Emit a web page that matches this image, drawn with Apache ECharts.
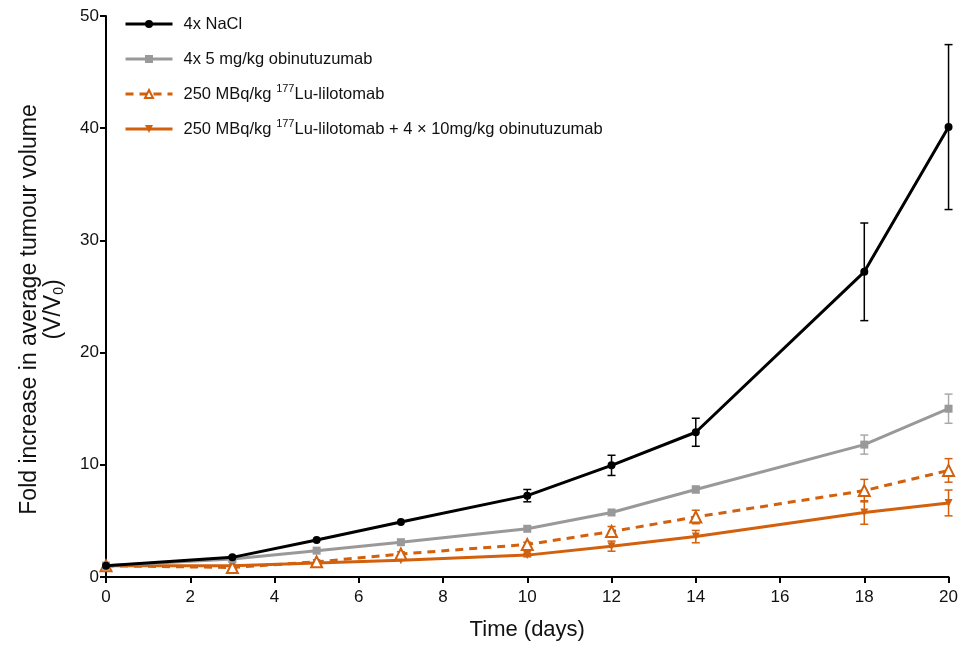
<!DOCTYPE html>
<html>
<head>
    <meta charset="utf-8"/>
    <title>Tumour volume</title>
    <script src="https://cdn.jsdelivr.net/npm/echarts@6/dist/echarts.min.js"></script>
    <style>
        html, body { margin: 0; padding: 0; background: #fff; }
        #main { width: 961px; height: 646px; }
    </style>
</head>
<body>
<div id="main"></div>
<script>
    // 数据
    var days = [0, 3, 5, 7, 10, 12, 14, 18, 20];
    var xTicks = [0, 2, 4, 6, 8, 10, 12, 14, 16, 18, 20];
    var yTicks = [0, 10, 20, 30, 40, 50];
    var seriesNames = ['4x NaCl', '4x 5 mg/kg obinutuzumab', '250 MBq/kg 177Lu-lilotomab',
        '250 MBq/kg 177Lu-lilotomab + 4 × 10mg/kg obinutuzumab'];
    var nacl = [1.0, 1.75, 3.3, 4.9, 7.25, 9.95, 12.9, 27.2, 40.1];
    var naclErr = [0, 0, 0, 0, 0.55, 0.9, 1.25, 4.35, 7.35];
    var obin = [1.0, 1.6, 2.35, 3.1, 4.3, 5.75, 7.8, 11.8, 15.0];
    var obinErr = [0, 0, 0, 0, 0, 0, 0.3, 0.85, 1.3];
    var lu = [1.0, 0.85, 1.35, 2.05, 2.9, 4.05, 5.35, 7.7, 9.5];
    var luErr = [0, 0.2, 0, 0.2, 0.2, 0.45, 0.6, 1.0, 1.05];
    var combo = [1.0, 1.0, 1.25, 1.5, 1.95, 2.75, 3.6, 5.75, 6.6];
    var comboErr = [0, 0, 0, 0, 0.15, 0.45, 0.55, 1.05, 1.15];
    var starPoint = [9, 3.8];

    var colors = ['#000000', '#999999', '#d2600d', '#d2600d'];
    var font = "'Liberation Sans', Arial, sans-serif";

    function pairs(ys) {
        return days.map(function (d, i) { return [d, ys[i]]; });
    }
    function errData(ys, es) {
        var out = [];
        days.forEach(function (d, i) {
            if (es[i] > 0) out.push([d, ys[i] - es[i], ys[i] + es[i]]);
        });
        return out;
    }
    // 误差棒
    function errSeries(ys, es, color) {
        return {
            type: 'custom',
            silent: true,
            z: 1,
            data: errData(ys, es),
            encode: {x: 0, y: [1, 2]},
            renderItem: function (params, api) {
                var x = api.value(0);
                var lo = api.coord([x, api.value(1)]);
                var hi = api.coord([x, api.value(2)]);
                var w = 4;
                var st = {stroke: color, lineWidth: 1.5};
                return {
                    type: 'group',
                    children: [
                        {type: 'line', shape: {x1: lo[0], y1: lo[1], x2: hi[0], y2: hi[1]}, style: st},
                        {type: 'line', shape: {x1: hi[0] - w, y1: hi[1], x2: hi[0] + w, y2: hi[1]}, style: st},
                        {type: 'line', shape: {x1: lo[0] - w, y1: lo[1], x2: lo[0] + w, y2: lo[1]}, style: st}
                    ]
                };
            }
        };
    }

    var chart = echarts.init(document.getElementById('main'));
    var option = {
        animation: false,
        textStyle: {fontFamily: font},
        grid: {left: 106, right: 11, top: 16, bottom: 68},
        legend: {
            orient: 'vertical',
            left: 119,
            top: 8,
            itemWidth: 47,
            itemHeight: 10,
            itemGap: 13,
            data: seriesNames,
            lineStyle: {width: 3},
            textStyle: {
                fontFamily: font, fontSize: 16.5, color: '#111', lineHeight: 22,
                padding: [0, 0, 0, 6],
                rich: {
                    sup: {fontSize: 11, verticalAlign: 'top', lineHeight: 12, fontFamily: font, color: '#111'}
                }
            },
            formatter: function (name) {
                return name.replace('177Lu', '{sup|177}Lu');
            }
        },
        xAxis: {
            type: 'value',
            min: 0, max: 20, interval: 2,
            name: 'Time (days)',
            nameLocation: 'middle',
            nameGap: 42,
            nameTextStyle: {fontSize: 22, color: '#111', fontFamily: font},
            axisLine: {lineStyle: {color: '#000', width: 2}},
            axisTick: {length: 6, lineStyle: {width: 2, color: '#000'}},
            axisLabel: {fontSize: 17, color: '#111', margin: 12,
                customValues: xTicks},
            splitLine: {show: false}
        },
        yAxis: {
            type: 'value',
            min: 0, max: 50, interval: 10,
            name: 'Fold increase in average tumour volume\n(V/V{sub|0})',
            nameLocation: 'middle',
            nameGap: 40,
            nameTextStyle: {
                fontSize: 23, color: '#111', fontFamily: font, lineHeight: 24,
                padding: [0, 26, 0, 0],
                rich: {sub: {fontSize: 14, verticalAlign: 'bottom', lineHeight: 14, fontFamily: font, color: '#111'}}
            },
            axisLine: {lineStyle: {color: '#000', width: 2}},
            axisTick: {length: 6, lineStyle: {width: 2, color: '#000'}},
            axisLabel: {fontSize: 17, color: '#111', margin: 7, customValues: yTicks},
            splitLine: {show: false}
        },
        series: [
            errSeries(nacl, naclErr, '#000'),
            errSeries(obin, obinErr, '#aaaaaa'),
            errSeries(lu, luErr, colors[2]),
            errSeries(combo, comboErr, colors[3]),
            {
                name: seriesNames[3], type: 'line', data: pairs(combo), z: 3,
                symbol: 'triangle', symbolRotate: 180, symbolSize: 8,
                lineStyle: {color: colors[3], width: 3},
                itemStyle: {color: colors[3]}
            },
            {
                name: seriesNames[2], type: 'line', data: pairs(lu), z: 4,
                symbol: 'emptyTriangle', symbolSize: 11,
                lineStyle: {color: colors[2], width: 3, type: [8, 6]},
                itemStyle: {color: colors[2], borderColor: colors[2], borderWidth: 2}
            },
            {
                name: seriesNames[1], type: 'line', data: pairs(obin), z: 5,
                symbol: 'rect', symbolSize: 8,
                lineStyle: {color: colors[1], width: 3},
                itemStyle: {color: colors[1]},
                markPoint: {
                    symbol: 'none',
                    data: [{coord: starPoint, label: {show: true, formatter: '*', color: '#000', fontSize: 16, offset: [0, 3]}}]
                }
            },
            {
                name: seriesNames[0], type: 'line', data: pairs(nacl), z: 6,
                symbol: 'circle', symbolSize: 8,
                lineStyle: {color: colors[0], width: 3},
                itemStyle: {color: colors[0]}
            }
        ]
    };
    chart.setOption(option);
    window.onresize = function () {
        chart.resize();
    };
</script>
</body>
</html>
